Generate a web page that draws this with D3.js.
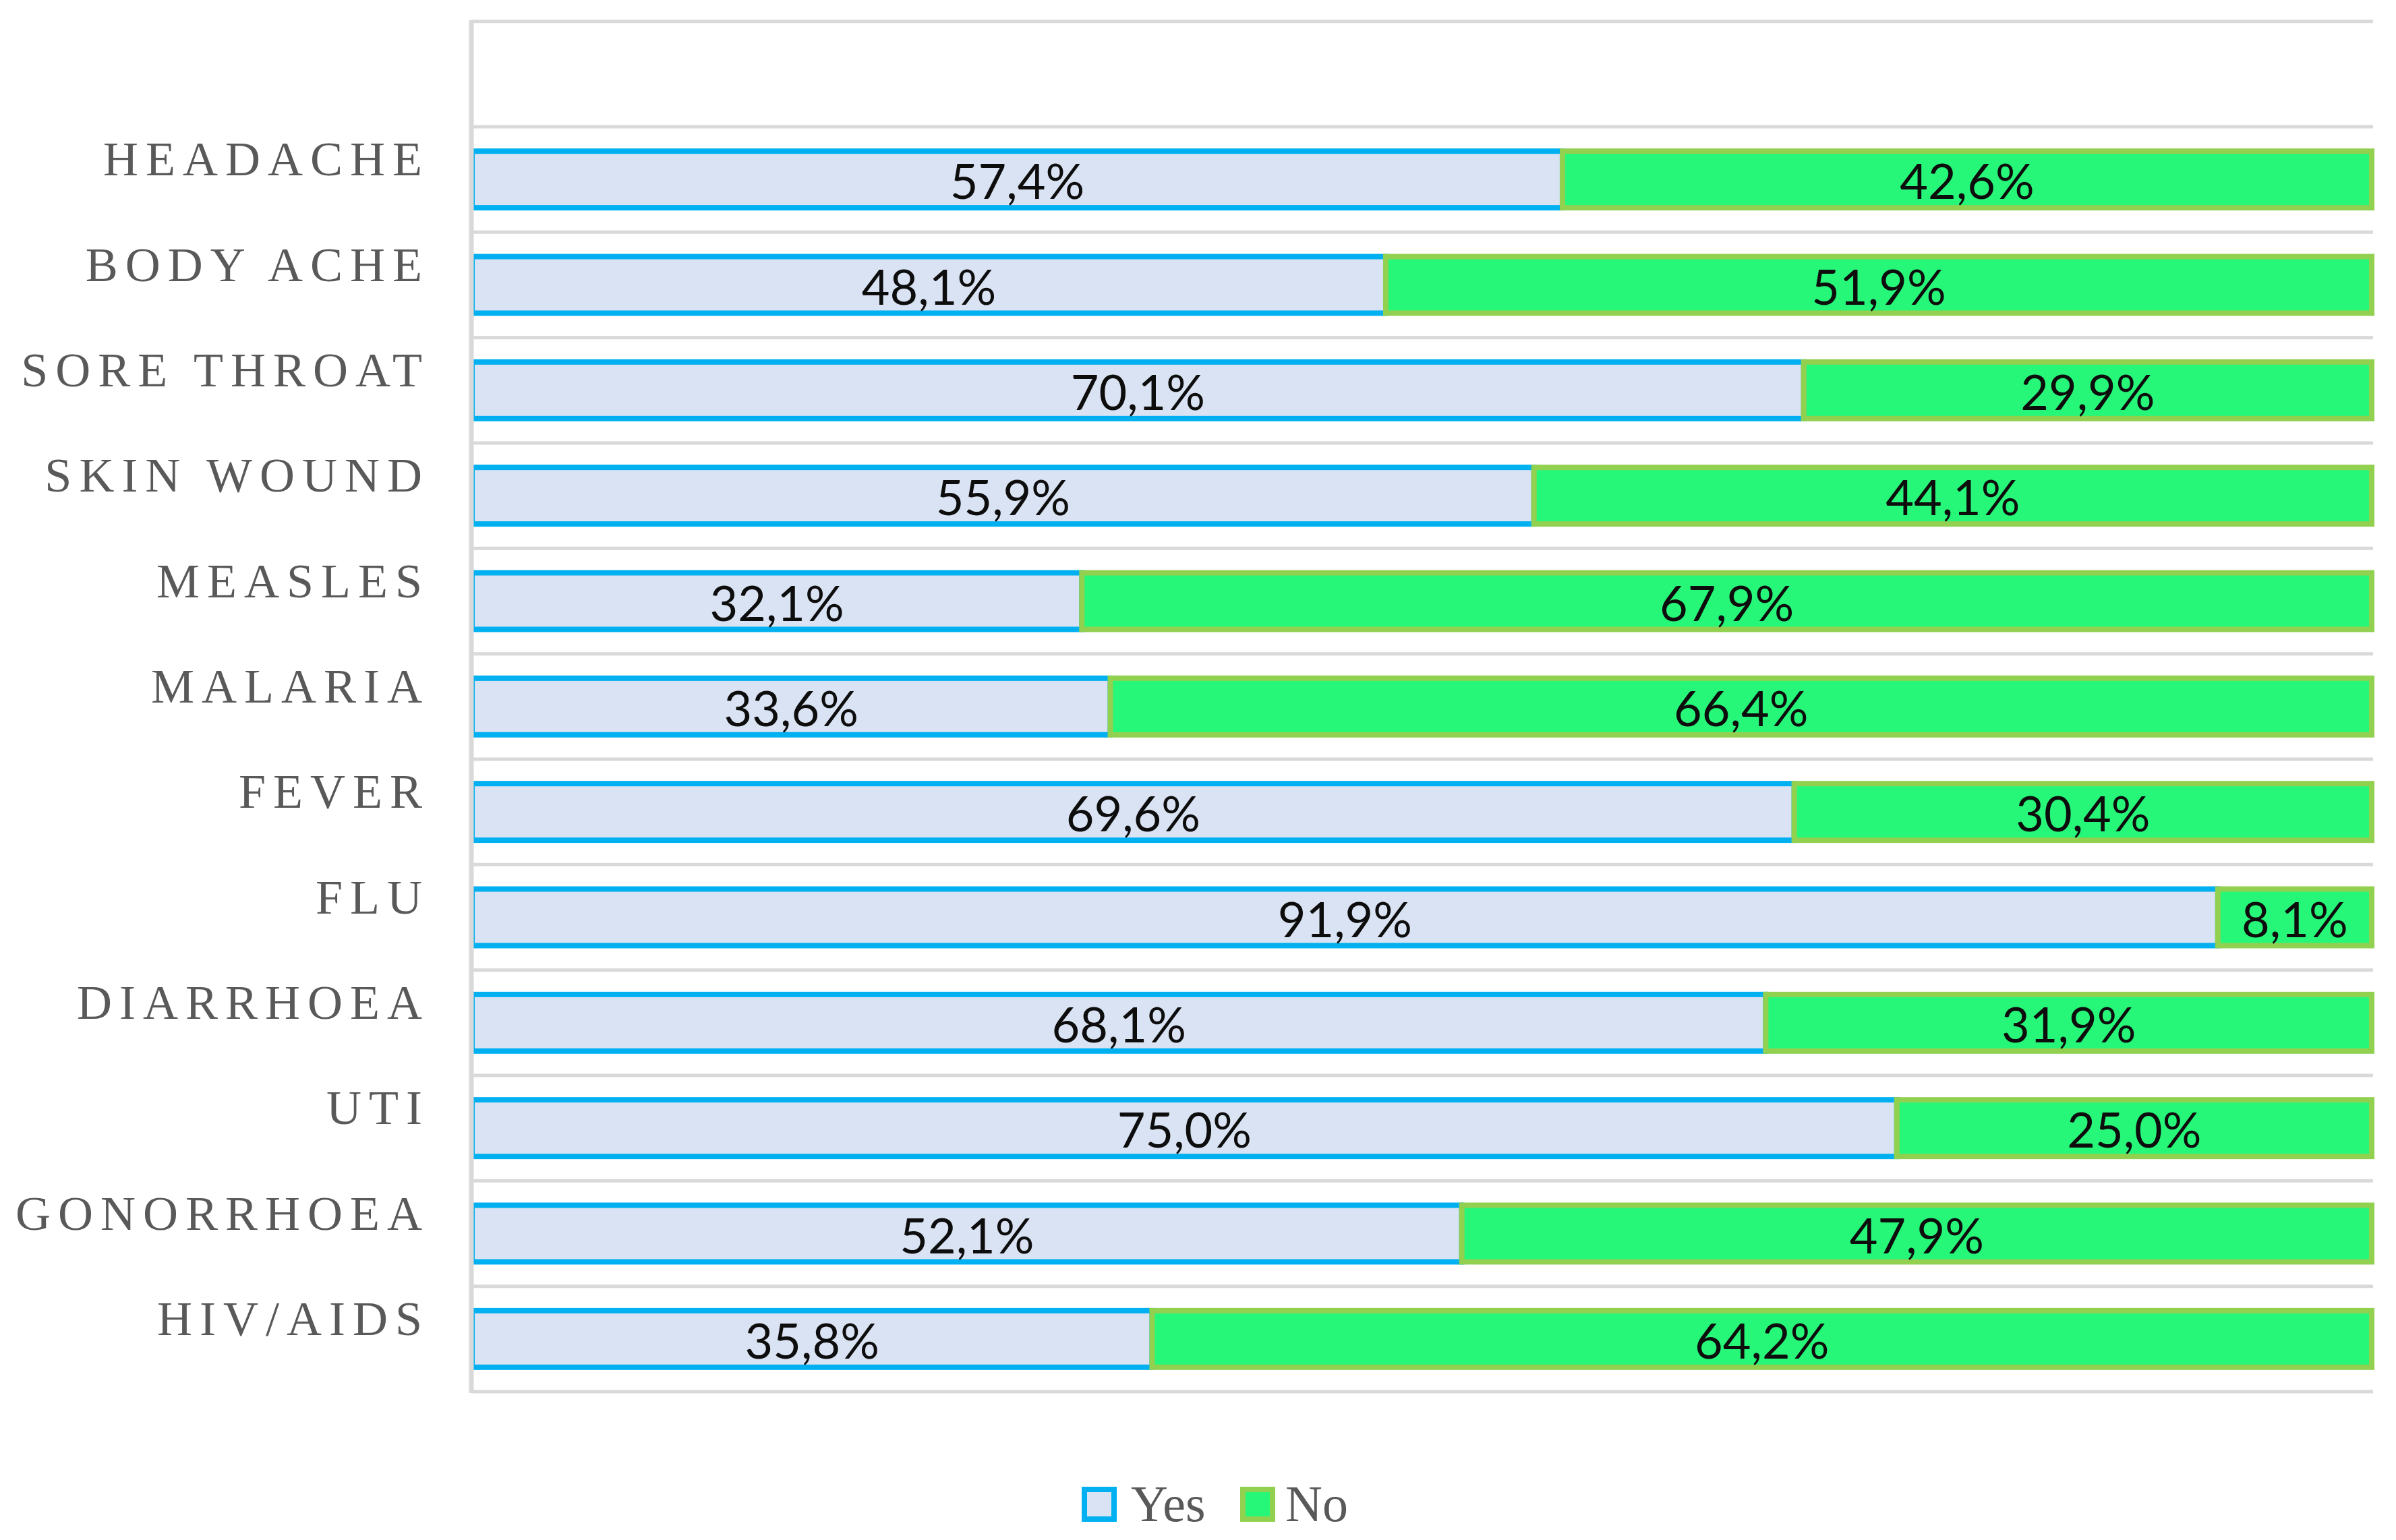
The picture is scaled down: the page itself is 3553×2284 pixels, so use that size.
<!DOCTYPE html>
<html>
<head>
<meta charset="utf-8">
<script src="https://cdn.jsdelivr.net/npm/d3@7"></script>
<style>
  html, body { margin: 0; padding: 0; background: #ffffff; }
  svg { display: block; }
</style>
</head>
<body>
<svg id="chart" width="3553" height="2284"></svg>
<script>
// ---- data ----
const categories = ["HEADACHE", "BODY ACHE", "SORE THROAT", "SKIN WOUND", "MEASLES", "MALARIA",
                    "FEVER", "FLU", "DIARRHOEA", "UTI", "GONORRHOEA", "HIV/AIDS"];
const yesValues = [57.4, 48.1, 70.1, 55.9, 32.1, 33.6, 69.6, 91.9, 68.1, 75.0, 52.1, 35.8];
const noValues  = [42.6, 51.9, 29.9, 44.1, 67.9, 66.4, 30.4, 8.1, 31.9, 25.0, 47.9, 64.2];
const seriesNames = ["Yes", "No"];

// ---- styles ----
const yesFill = "#dae3f3", yesStroke = "#00b0f0";
const noFill = "#27f779", noStroke = "#92d050";
const gridColor = "#d9d9d9";

const svg = d3.select("#chart");
const plot = { left: 700, right: 3517, top: 188, bottom: 2064 };

const x = d3.scaleLinear().domain([0, 100]).range([plot.left, plot.right]);
const pIn = 0.463;
const y = d3.scaleBand().domain(categories).range([plot.top, plot.bottom])
  .paddingInner(pIn).paddingOuter(pIn / 2);
const step = y.step();

const locale = d3.formatLocale({ decimal: ",", thousands: ".", grouping: [3], currency: ["", ""] });
const fmt = v => locale.format(".1f")(v) + "%";

// ---- grid lines (band boundaries + top empty band) ----
const boundaries = d3.range(categories.length + 1).map(i => plot.top + i * step);
boundaries.unshift(plot.top - step);
svg.append("g").selectAll("line").data(boundaries).join("line")
  .attr("x1", plot.left).attr("x2", plot.right + 2)
  .attr("y1", d => d).attr("y2", d => d)
  .attr("stroke", gridColor).attr("stroke-width", 5);

// ---- bars ----
const rows = categories.map((c, i) => ({ cat: c, yes: yesValues[i], no: noValues[i] }));
const bh = y.bandwidth();

svg.append("g").selectAll("rect").data(rows).join("rect")
  .attr("x", x(0)).attr("y", d => y(d.cat))
  .attr("width", d => x(d.yes) - x(0)).attr("height", bh)
  .attr("fill", yesFill).attr("stroke", yesStroke).attr("stroke-width", 8);

svg.append("g").selectAll("rect").data(rows).join("rect")
  .attr("x", d => x(d.yes)).attr("y", d => y(d.cat))
  .attr("width", d => x(d.yes + d.no) - x(d.yes)).attr("height", bh)
  .attr("fill", noFill).attr("stroke", noStroke).attr("stroke-width", 8);

// left axis line (drawn over bar edges)
svg.append("line")
  .attr("x1", plot.left - 1).attr("x2", plot.left - 1)
  .attr("y1", plot.top - step - 2).attr("y2", plot.bottom + 2)
  .attr("stroke", gridColor).attr("stroke-width", 7);

// ---- value labels ----
const lblFont = "Lato, 'Open Sans', sans-serif";
svg.append("g").selectAll("text").data(rows).join("text")
  .attr("x", d => x(d.yes / 2)).attr("y", d => y(d.cat) + bh / 2 + 29)
  .attr("text-anchor", "middle")
  .style("font-family", lblFont).style("font-size", "72px").attr("fill", "#0d0d0d")
  .text(d => fmt(d.yes));

svg.append("g").selectAll("text").data(rows).join("text")
  .attr("x", d => x(d.yes + d.no / 2)).attr("y", d => y(d.cat) + bh / 2 + 29)
  .attr("text-anchor", "middle")
  .style("font-family", lblFont).style("font-size", "72px").attr("fill", "#0d0d0d")
  .text(d => fmt(d.no));

// ---- category labels ----
const catFont = "'Liberation Serif', 'DejaVu Serif', serif";
svg.append("g").selectAll("text").data(categories).join("text")
  .attr("x", 637).attr("y", d => y(d) + bh / 2 - 6)
  .attr("text-anchor", "end")
  .style("font-family", catFont).style("font-size", "72px")
  .style("letter-spacing", "11px").attr("fill", "#595959")
  .text(d => d);

// ---- legend ----
const legend = svg.append("g");
const legItems = [
  { name: seriesNames[0], fill: yesFill, stroke: yesStroke, bx: 1608, tx: 1677 },
  { name: seriesNames[1], fill: noFill, stroke: noStroke, bx: 1843, tx: 1906 }
];
legItems.forEach(it => {
  legend.append("rect").attr("x", it.bx).attr("y", 2209).attr("width", 44).attr("height", 44)
    .attr("fill", it.fill).attr("stroke", it.stroke).attr("stroke-width", 8);
  legend.append("text").attr("x", it.tx).attr("y", 2256)
    .style("font-family", catFont).style("font-size", "76px").attr("fill", "#595959")
    .text(it.name);
});
</script>
</body>
</html>
